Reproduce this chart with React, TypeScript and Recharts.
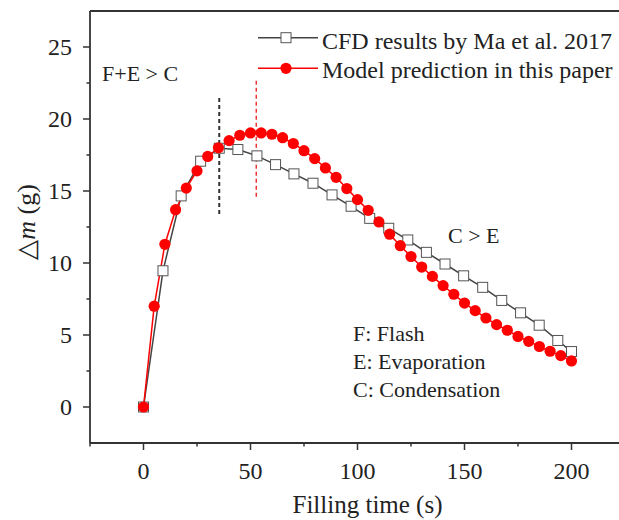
import { LineChart, Line, XAxis, YAxis, ReferenceLine } from "recharts";

// CFD results by Ma et al. 2017 (open squares)
const cfdTime = [
  0, 9.1, 17.6, 26.7, 35.4, 44.1, 53.0, 61.7, 70.3, 79.2, 88.1, 97.0, 105.7,
  114.6, 123.5, 132.2, 140.9, 149.6, 158.5, 167.4, 176.2, 184.9, 193.6, 200,
];
const cfdMass = [
  0, 9.46, 14.66, 17.07, 17.97, 17.88, 17.44, 16.83, 16.19, 15.54, 14.73,
  13.94, 13.1, 12.41, 11.6, 10.74, 9.93, 9.11, 8.31, 7.4, 6.54, 5.68, 4.62,
  3.85,
];

// model prediction (filled circles)
const modelTime = [
  0, 5, 10, 15, 20, 25, 30, 35, 40, 45, 50, 55, 60, 65, 70, 75, 80, 85, 90,
  95, 100, 105, 110, 115, 120, 125, 130, 135, 140, 145, 150, 155, 160, 165,
  170, 175, 180, 185, 190, 195, 200,
];
const modelMass = [
  0, 7.0, 11.3, 13.7, 15.2, 16.4, 17.4, 18.0, 18.5, 18.87, 19.03, 19.03,
  18.94, 18.7, 18.3, 17.8, 17.25, 16.6, 15.95, 15.17, 14.4, 13.66, 12.85,
  12.0, 11.2, 10.45, 9.72, 9.07, 8.43, 7.83, 7.22, 6.69, 6.18, 5.72, 5.33,
  4.9, 4.56, 4.2, 3.87, 3.57, 3.2,
];

const xTicks = [-25, 0, 25, 50, 75, 100, 125, 150, 175, 200, 225];
const yTicks = [0, 2.5, 5, 7.5, 10, 12.5, 15, 17.5, 20, 22.5, 25];

// peak markers: [time, from, to]
const cfdPeak = [35.4, 13.4, 21.5];
const modelPeak = [52.7, 14.6, 22.7];

const cfdData = cfdTime.map((t, i) => ({ t, m: cfdMass[i] }));
const modelData = modelTime.map((t, i) => ({ t, m: modelMass[i] }));

const FONT = '"Liberation Serif", "Times New Roman", serif';
const INK = "#222";
const AXIS = "#333";
const RED = "#ff0000";
const GREY = "#444";

function XTick(props: any) {
  const { x, y, payload } = props;
  const major = payload.value % 50 === 0;
  return (
    <g>
      <line x1={x} x2={x} y1={y} y2={y + (major ? 7 : 3.5)} stroke={AXIS} strokeWidth={1.5} />
      {major && payload.value >= 0 && payload.value <= 200 && (
        <text x={x} y={y + 36} textAnchor="middle" fontSize={24} fontFamily={FONT} fill={INK}>
          {payload.value}
        </text>
      )}
    </g>
  );
}

function YTick(props: any) {
  const { x, y, payload } = props;
  const major = payload.value % 5 === 0;
  return (
    <g>
      <line x1={x} x2={x - (major ? 7 : 3.5)} y1={y} y2={y} stroke={AXIS} strokeWidth={1.5} />
      {major && (
        <text x={x - 18} y={y + 8} textAnchor="end" fontSize={24} fontFamily={FONT} fill={INK}>
          {payload.value}
        </text>
      )}
    </g>
  );
}

function SquareDot(props: any) {
  const { cx, cy } = props;
  if (cx == null || cy == null) return null;
  return <rect x={cx - 5} y={cy - 5} width={10} height={10} fill="#fff" stroke="#555" strokeWidth={1} />;
}

function CircleDot(props: any) {
  const { cx, cy } = props;
  if (cx == null || cy == null) return null;
  return <circle cx={cx} cy={cy} r={5.6} fill={RED} stroke="none" />;
}

const note = (left: number, top: number, size = 22): React.CSSProperties => ({
  position: "absolute",
  left,
  top,
  fontFamily: FONT,
  fontSize: size,
  color: INK,
  whiteSpace: "nowrap",
  lineHeight: 1,
});

export default function App() {
  return (
    <div style={{ position: "absolute", left: 0, top: 0, width: 619, height: 520, overflow: "hidden", background: "#fff" }}>
      <LineChart
        width={625}
        height={520}
        margin={{ top: 10, right: 0, left: 30, bottom: 47 }}
      >
        <XAxis
          xAxisId="top"
          orientation="top"
          type="number"
          dataKey="t"
          domain={[-25, 225]}
          height={1}
          tick={false}
          tickLine={false}
          axisLine={{ stroke: AXIS, strokeWidth: 1.8 }}
        />
        <XAxis
          type="number"
          dataKey="t"
          domain={[-25, 225]}
          ticks={xTicks}
          interval={0}
          height={30}
          tickSize={0}
          tickMargin={0}
          tickLine={false}
          tick={<XTick />}
          axisLine={{ stroke: AXIS, strokeWidth: 1.8 }}
          allowDataOverflow
        />
        <YAxis
          type="number"
          dataKey="m"
          domain={[-2.5, 27.5]}
          ticks={yTicks}
          interval={0}
          width={60}
          tickSize={0}
          tickMargin={0}
          tickLine={false}
          tick={<YTick />}
          axisLine={{ stroke: AXIS, strokeWidth: 1.8 }}
          allowDataOverflow
        />
        <ReferenceLine
          segment={[{ x: cfdPeak[0], y: cfdPeak[1] }, { x: cfdPeak[0], y: cfdPeak[2] }]}
          stroke="#333"
          strokeWidth={2}
          strokeDasharray="4 3"
        />
        <ReferenceLine
          segment={[{ x: modelPeak[0], y: modelPeak[1] }, { x: modelPeak[0], y: modelPeak[2] }]}
          stroke="#e33"
          strokeWidth={1.5}
          strokeDasharray="4 3"
        />
        <Line
          data={cfdData}
          dataKey="m"
          type="linear"
          stroke={GREY}
          strokeWidth={1.5}
          dot={<SquareDot />}
          activeDot={false}
          isAnimationActive={false}
        />
        <Line
          data={modelData}
          dataKey="m"
          type="linear"
          stroke={RED}
          strokeWidth={1.5}
          dot={<CircleDot />}
          activeDot={false}
          isAnimationActive={false}
        />
      </LineChart>

      {/* legend */}
      <svg style={{ position: "absolute", left: 255, top: 25 }} width={70} height={60}>
        <line x1={3} x2={63} y1={12.7} y2={12.7} stroke={GREY} strokeWidth={1.5} />
        <rect x={26} y={7.7} width={10} height={10} fill="#fff" stroke="#555" strokeWidth={1} />
        <line x1={3} x2={63} y1={43.3} y2={43.3} stroke={RED} strokeWidth={1.5} />
        <circle cx={31} cy={43.3} r={5.6} fill={RED} />
      </svg>
      <div style={note(322, 29, 24)}>CFD results by Ma et al. 2017</div>
      <div style={note(322, 58, 24)}>Model prediction in this paper</div>

      {/* annotations */}
      <div style={note(102, 63)}>F+E &gt; C</div>
      <div style={note(448, 225)}>C &gt; E</div>
      <div style={note(353, 323)}>F: Flash</div>
      <div style={note(353, 351)}>E: Evaporation</div>
      <div style={note(353, 379)}>C: Condensation</div>

      {/* axis titles */}
      <div style={{ ...note(0, 492, 25), width: 735, textAlign: "center" }}>Filling time (s)</div>
      <div
        style={{
          ...note(27, 222, 26),
          transform: "translate(-50%, -50%) rotate(-90deg)",
        }}
      >
        △<i>m</i> (g)
      </div>
    </div>
  );
}
